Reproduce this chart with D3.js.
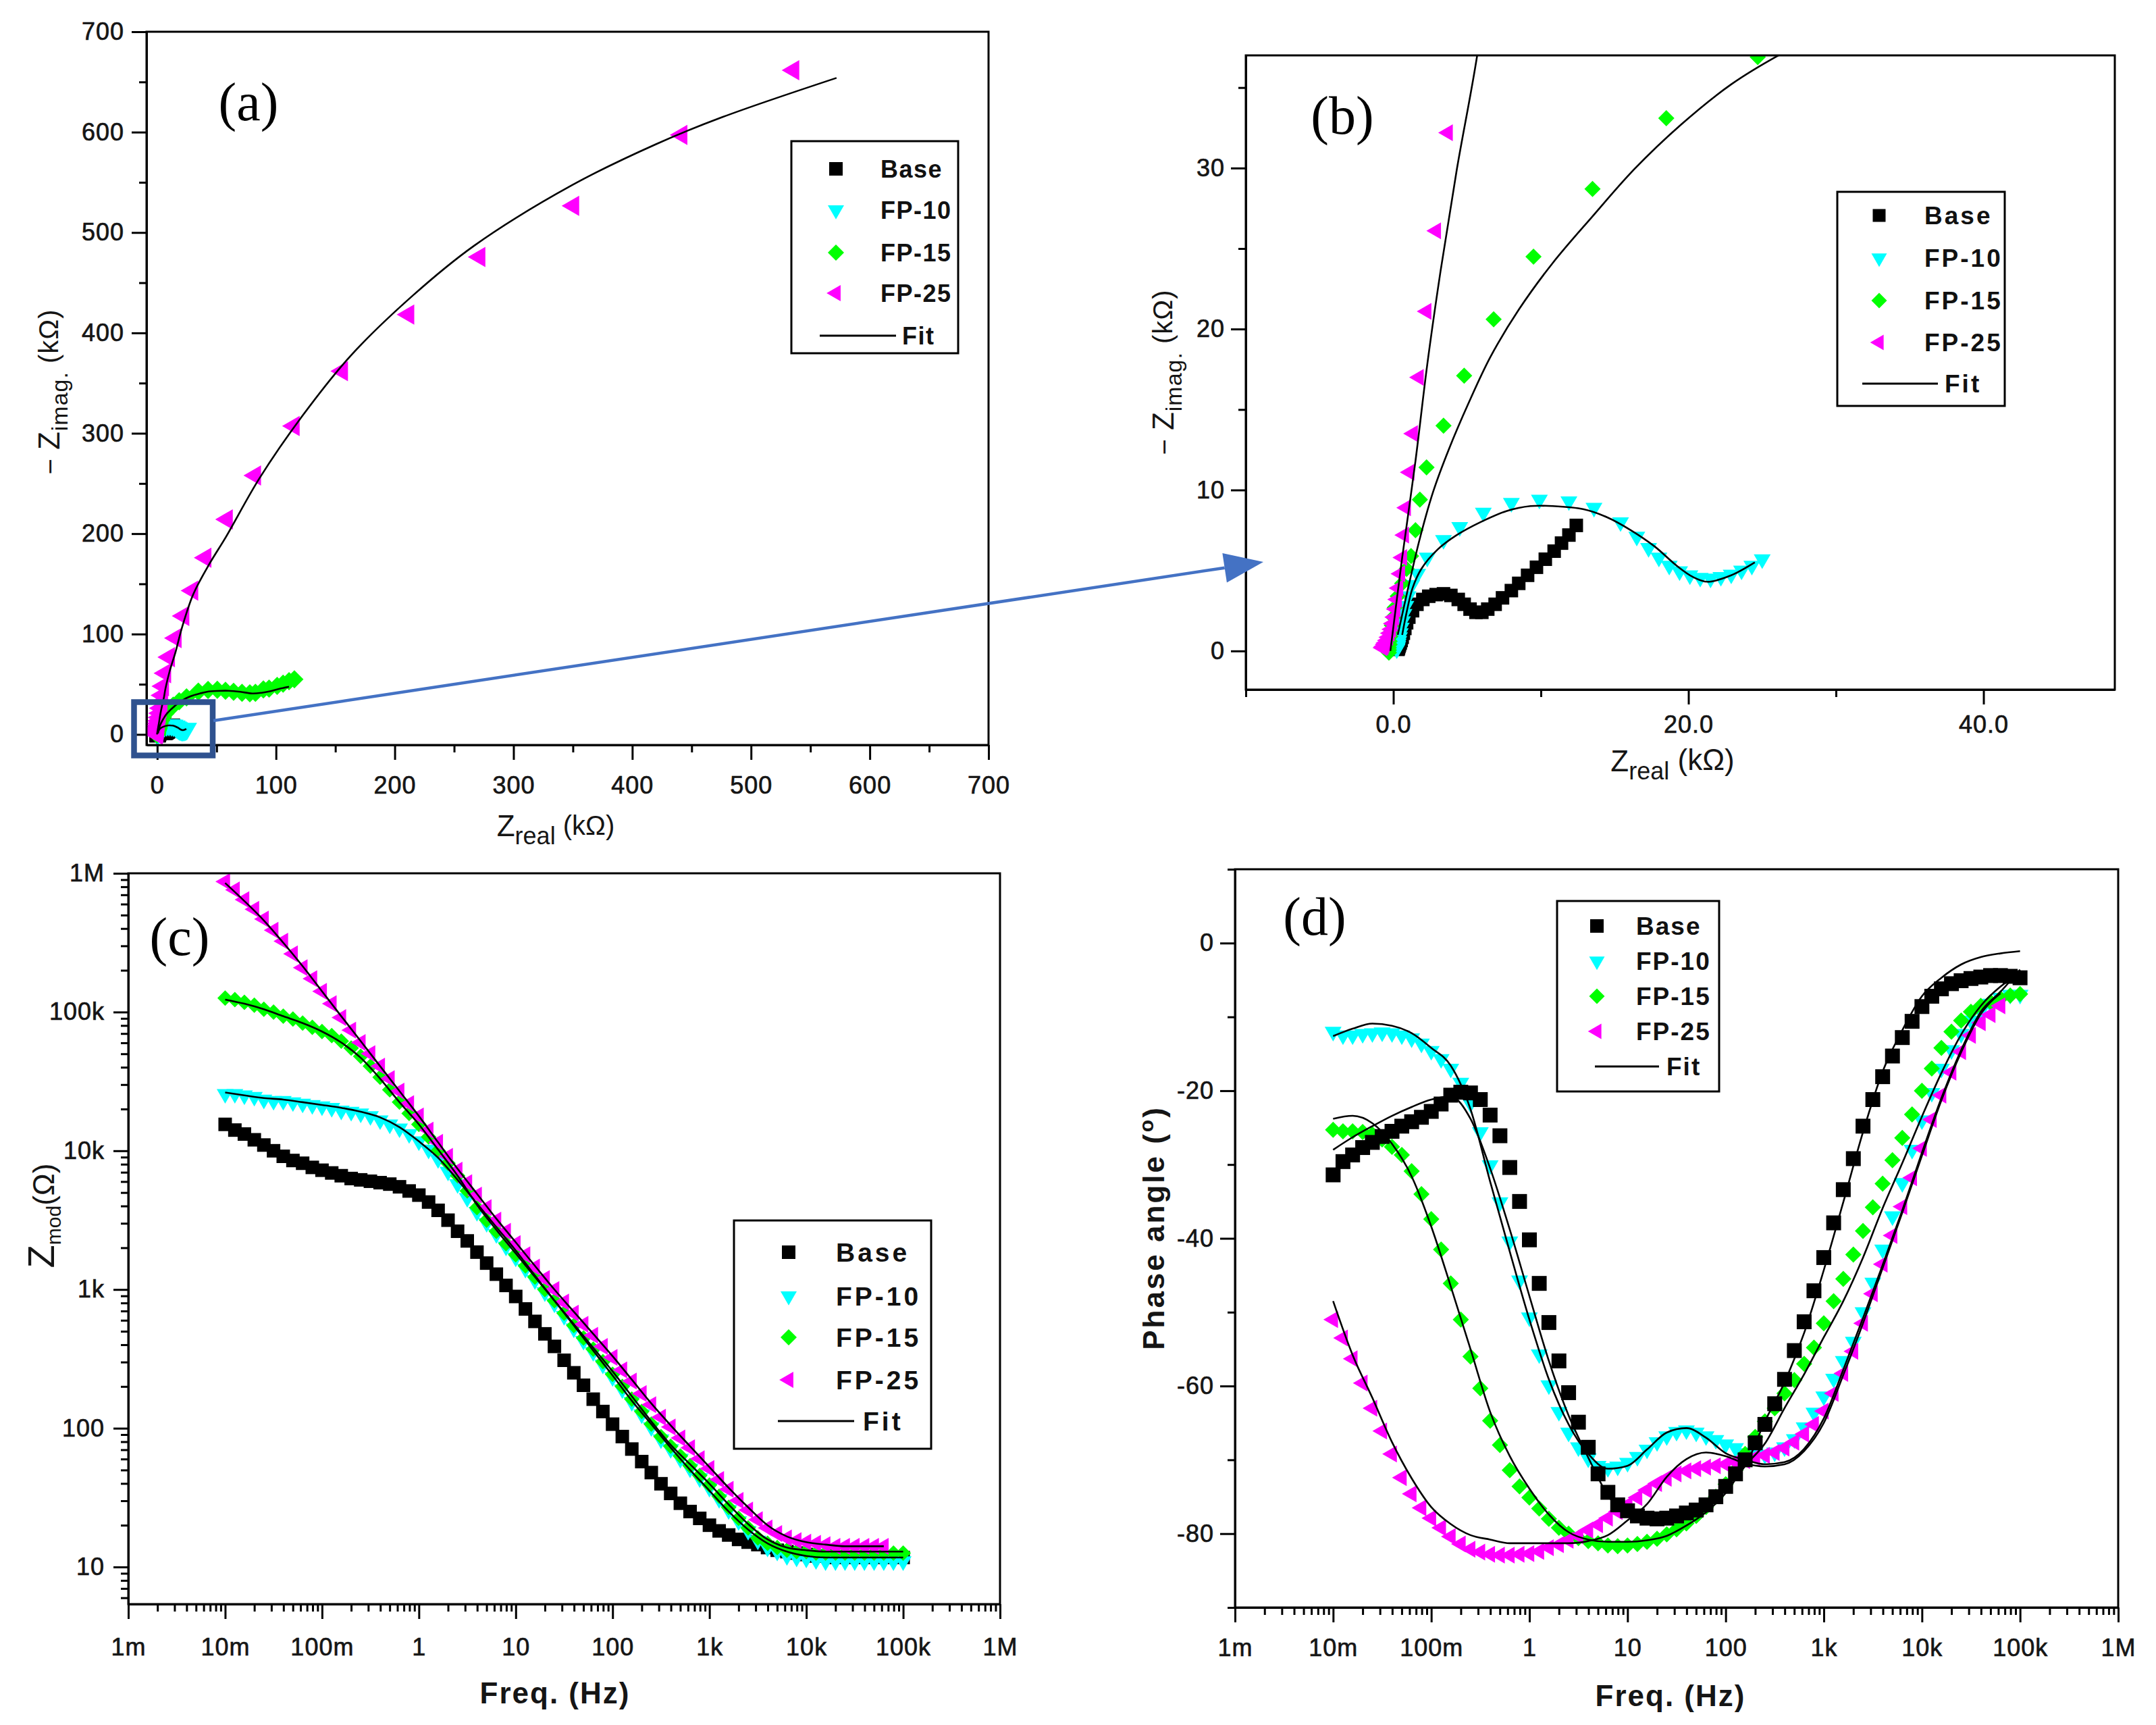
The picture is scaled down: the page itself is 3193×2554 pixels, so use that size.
<!DOCTYPE html>
<html><head><meta charset="utf-8">
<script src="https://cdn.jsdelivr.net/npm/d3@7/dist/d3.min.js"></script>
<style>
html,body{margin:0;padding:0;background:#fff;}
</style></head><body>
<svg id="chart" width="3193" height="2554" xmlns="http://www.w3.org/2000/svg"></svg>
<script>
// ---------------- DATA ----------------
const SERIES = ["Base", "FP-10", "FP-15", "FP-25"];
const COLORS = ["#000000", "#00FFFF", "#00FF00", "#FF00FF"];
const KINDS = ["square", "triDown", "diamond", "triLeft"];

// measurement frequencies (Hz), 10 per decade, 10 mHz .. 100 kHz
const FREQ = [0.01,0.0126,0.0158,0.02,0.0251,0.0316,0.0398,0.0501,0.0631,0.0794,
  0.1,0.126,0.158,0.2,0.251,0.316,0.398,0.501,0.631,0.794,
  1,1.26,1.58,2,2.51,3.16,3.98,5.01,6.31,7.94,
  10,12.6,15.8,20,25.1,31.6,39.8,50.1,63.1,79.4,
  100,126,158,200,251,316,398,501,631,794,
  1000,1260,1580,2000,2510,3160,3980,5010,6310,7940,
  10000,12600,15800,20000,25100,31600,39800,50100,63100,79400,100000];
// fit-curve frequencies (Hz)
const FIT_FREQ = [0.01,0.0158,0.0251,0.0398,0.0631,0.1,0.158,0.251,0.398,0.631,
  1,1.58,2.51,3.98,6.31,10,15.8,25.1,39.8,63.1,
  100,158,251,398,631,1000,1580,2510,3980,6310,
  10000,15800,25100,39800,63100,100000];

// |Z| (ohm) - panel (c)
const ZMOD_BASE = [15500,14100,13200,12000,11000,10000,9120,8510,8130,7590,
  7240,6920,6610,6310,6170,6030,5890,5750,5500,5130,
  4790,4270,3720,3160,2630,2240,1860,1550,1290,1070,
  891,724,589,479,389,309,251,204,162,132,
  107,87.1,70.8,57.5,47.9,39.8,33.9,28.8,25.1,22.4,
  20.0,18.2,17.0,15.8,15.1,14.5,13.8,13.2,12.9,12.6,
  12.3,12.0,12.0,11.7,11.7,11.7,11.7,11.7,11.7,11.7,11.7];
const ZMOD_FP10 = [25700,25700,25100,24500,23400,22900,22900,22400,21900,21400,
  20900,20400,19500,19100,18600,17800,16600,15500,14500,13200,
  11700,10200,8710,7080,5750,4570,3630,3020,2510,2040,
  1700,1410,1170,955,794,646,525,427,355,288,
  234,191,155,126,102,83.2,70.8,60.3,51.3,43.7,
  37.2,30.9,25.7,21.4,18.2,15.5,13.8,12.9,12.0,11.7,
  11.5,11.2,11.0,11.0,11.0,11.0,11.0,11.0,11.0,11.0,11.0];
const ZMOD_FP15 = [126000,123000,117500,112200,104700,100000,93300,89100,83200,77600,
  72400,67600,61700,55000,47900,40700,33900,27500,22400,18600,
  15500,12600,10000,8130,6610,5130,3890,3160,2630,2140,
  1780,1480,1230,1000,832,676,550,447,372,302,
  245,200,162,132,107,87.1,74.1,63.1,53.7,45.7,
  38.9,32.4,26.9,22.4,19.1,16.2,14.8,13.8,13.2,12.9,
  12.9,12.6,12.6,12.6,12.6,12.6,12.6,12.6,12.6,12.6,12.6];
const ZMOD_FP25 = [871000,759000,646000,550000,468000,389000,324000,263000,209000,174000,
  141000,115000,91200,74100,60300,50100,40700,33100,26900,21900,
  17800,14100,11500,9120,7240,5890,4790,3890,3160,2630,
  2140,1780,1450,1200,1000,813,676,562,468,389,
  324,263,219,178,148,120,102,85.1,72.4,60.3,
  51.3,42.7,36.3,30.2,25.7,21.9,19.1,17.4,16.2,15.5,
  15.1,14.8,14.5,14.1,14.1,14.1,14.1,14.1,14.1];
const ZMOD_FIT_FP10 = [26300,25100,24000,23400,22400,21400,20400,19100,17400,14800,
  11700,8910,6170,4170,2820,1910,1260,832,550,363,
  240,158,107,72.4,50.1,35.5,25.1,18.6,14.8,12.9,
  12.0,11.7,11.7,11.7,11.7,11.7];
const ZMOD_FIT_FP15 = [123000,114800,104700,93300,83200,72400,60300,46800,33100,22400,
  15500,10200,6610,4070,2690,1820,1230,832,562,380,
  257,170,112,75.9,55.0,39.8,28.2,20.4,15.8,13.8,
  13.2,12.9,12.9,12.9,12.9,12.9];
const ZMOD_FIT_FP25 = [851000,631000,457000,316000,214000,141000,93300,61700,40700,26900,
  17800,11500,7410,4900,3240,2190,1480,1000,692,479,
  331,224,151,105,74.1,52.5,37.2,26.9,20.0,16.6,
  15.1,14.5,14.1,14.1,14.1];

// phase angle (deg) - panel (d)
const PHASE_BASE = [-31.4,-29.6,-28.7,-27.7,-27.0,-26.2,-25.5,-24.8,-24.2,-23.6,
  -22.8,-21.8,-20.6,-20.2,-20.3,-21.2,-23.3,-26.1,-30.4,-35.0,
  -40.2,-46.1,-51.4,-56.6,-60.9,-64.9,-68.3,-71.9,-74.4,-76.1,
  -76.9,-77.6,-77.9,-78.0,-77.9,-77.6,-77.2,-76.8,-76.1,-75.0,
  -73.6,-71.9,-70.0,-67.7,-65.2,-62.4,-59.1,-55.2,-51.3,-47.1,
  -42.6,-37.9,-33.4,-29.2,-24.8,-21.2,-18.1,-15.3,-12.8,-10.6,
  -8.6,-7.2,-6.2,-5.5,-5.1,-4.8,-4.6,-4.4,-4.4,-4.5,-4.7];
const PHASE_FP10 = [-12.0,-12.5,-12.5,-12.3,-12.2,-12.1,-12.2,-12.5,-12.9,-13.6,
  -14.6,-15.7,-17.0,-18.9,-21.7,-25.6,-30.1,-35.1,-40.4,-45.7,
  -50.7,-55.7,-59.9,-63.5,-66.3,-68.3,-69.8,-70.8,-71.1,-70.9,
  -70.4,-69.6,-68.6,-67.6,-66.8,-66.2,-66.0,-66.3,-66.8,-67.3,
  -67.9,-68.4,-69.1,-69.0,-69.3,-69.0,-68.3,-67.2,-65.6,-63.6,
  -61.4,-59.0,-56.6,-54.0,-50.0,-46.0,-41.5,-37.0,-32.5,-28.0,
  -24.0,-20.3,-17.0,-14.5,-12.3,-10.5,-9.2,-8.2,-7.4,-7.0,-7.0];
const PHASE_FP15 = [-25.3,-25.5,-25.5,-25.6,-25.9,-26.6,-27.6,-28.7,-30.9,-34.0,
  -37.4,-41.5,-46.1,-51.0,-56.0,-60.3,-64.7,-68.0,-71.4,-73.6,
  -75.1,-76.6,-78.0,-79.2,-80.0,-80.6,-81.0,-81.3,-81.6,-81.7,
  -81.6,-81.4,-81.1,-80.7,-80.1,-79.4,-78.6,-77.6,-76.4,-75.0,
  -73.3,-71.4,-69.2,-66.9,-64.8,-63.0,-61.0,-59.2,-57.0,-54.8,
  -51.5,-48.5,-45.5,-42.2,-39.0,-35.8,-32.6,-29.4,-26.4,-23.2,
  -20.0,-17.0,-14.2,-12.0,-10.5,-9.3,-8.5,-8.0,-7.5,-7.1,-6.9];
const PHASE_FP25 = [-51.0,-53.5,-56.3,-59.6,-63.0,-66.1,-69.2,-72.4,-74.6,-76.5,
  -77.9,-79.2,-80.4,-81.4,-82.1,-82.5,-82.8,-82.9,-82.9,-82.8,
  -82.7,-82.4,-81.9,-81.5,-80.9,-80.3,-79.5,-78.8,-77.9,-77.0,
  -76.1,-75.1,-74.1,-73.2,-72.5,-71.9,-71.5,-71.2,-71.0,-70.8,
  -70.6,-70.3,-70.1,-69.7,-69.4,-69.0,-68.4,-67.6,-66.5,-65.2,
  -63.4,-61.0,-58.3,-55.3,-51.5,-47.5,-43.5,-39.6,-35.7,-31.8,
  -27.8,-23.9,-20.6,-17.5,-14.7,-12.5,-10.8,-9.7,-8.5];
const PHASE_FIT_BASE = [-28.0,-26.3,-24.8,-23.4,-22.2,-21.2,-20.8,-23.8,-30.5,-38.8,
  -47.8,-56.6,-64.0,-69.7,-74.8,-77.6,-78.3,-78.0,-76.9,-75.5,
  -73.4,-70.8,-64.8,-59.5,-52.8,-44.3,-35.1,-25.6,-17.4,-11.8,
  -7.2,-4.7,-2.9,-1.9,-1.4,-1.1];
const PHASE_FIT_FP10 = [-12.6,-11.6,-10.9,-11.2,-12.2,-14.2,-16.6,-22.5,-32.3,-41.8,
  -51.0,-59.1,-65.2,-69.2,-71.2,-70.8,-68.6,-66.3,-65.7,-67.0,
  -69.1,-70.0,-70.6,-70.3,-68.5,-64.4,-57.8,-50.8,-43.6,-36.2,
  -28.4,-21.0,-14.5,-9.3,-6.6,-3.6];
const PHASE_FIT_FP15 = [-23.8,-23.4,-24.4,-27.2,-31.6,-38.4,-46.5,-55.0,-63.5,-69.5,
  -73.9,-77.4,-79.8,-80.8,-81.1,-81.1,-80.9,-80.3,-78.9,-77.1,
  -74.5,-70.8,-67.8,-63.0,-58.4,-53.4,-48.5,-42.6,-35.9,-29.8,
  -23.5,-17.6,-12.4,-8.5,-5.9,-4.1];
const PHASE_FIT_FP25 = [-48.5,-55.8,-61.6,-67.6,-72.5,-76.4,-78.7,-80.2,-80.8,-81.3,
  -81.3,-81.3,-81.3,-81.0,-80.2,-78.2,-76.0,-72.3,-69.9,-69.0,
  -69.5,-70.5,-70.9,-70.6,-68.8,-65.0,-58.5,-51.5,-44.0,-36.5,
  -28.8,-21.3,-14.8,-9.6,-6.8];

// Nyquist (k-ohm) - panels (a) and (b)
const ZRE_BASE = [12.4,11.9,11.4,10.9,10.3,9.7,9.1,8.5,8.0,7.4,6.9,6.4,6.0,5.6,5.2,4.8,4.4,3.9,3.4,2.9,
  2.4,2.0,1.6,1.3,1.05,0.9,0.78,0.68,0.6,0.53,0.47,0.42,0.38,0.35,0.33,0.31];
const ZIM_BASE = [7.8,7.2,6.7,6.2,5.7,5.2,4.7,4.2,3.75,3.3,2.9,2.6,2.4,2.4,2.6,2.9,3.2,3.45,3.55,3.5,
  3.4,3.2,2.9,2.5,2.1,1.75,1.4,1.1,0.85,0.65,0.5,0.38,0.28,0.2,0.14,0.1];
const ZRE_FP10 = [25.0,24.3,23.6,22.9,22.2,21.5,20.8,20.1,19.4,18.7,18.0,17.3,16.5,15.4,13.6,11.9,9.9,8.0,6.1,4.5,
  3.4,2.3,1.65,1.25,1.0,0.85,0.72,0.62,0.54,0.47,0.42,0.37,0.33,0.3,0.27,0.25,0.23];
const ZIM_FP10 = [5.7,5.3,5.0,4.75,4.6,4.5,4.55,4.7,4.95,5.3,5.8,6.4,7.1,8.0,8.9,9.3,9.4,9.2,8.6,7.7,
  6.9,5.8,4.8,4.1,3.4,2.8,2.3,1.85,1.45,1.1,0.85,0.62,0.45,0.32,0.22,0.15,0.1];
const ZRE_FP15 = [115.5,111,106,101,94.2,89.4,82.7,78,71.4,64.3,57.5,50.6,42.8,34.6,24.7,18.5,13.5,9.5,6.8,4.8,
  3.4,2.25,1.8,1.5,1.2,0.9,0.6,0.3,0.1,0,-0.1,-0.15,-0.2,-0.25,-0.25,-0.3,-0.3,-0.3];
const ZIM_FP15 = [55,53,50.6,48.4,45.7,44.8,41.5,41,41.5,42.5,43.5,44.5,44.4,42.7,36.9,33.1,28.7,24.5,20.6,17.1,
  14.0,11.4,9.4,7.5,5.9,5.1,4.2,3.4,2.7,2.1,1.6,1.2,0.9,0.6,0.4,0.2,0.05,-0.1];
const ZRE_FP25 = [535.7,441.5,350.4,271.4,211.5,155.7,115,82.5,58.7,40.7,29.6,22.1,15.6,10.0,6.8,5.0,4.2,3.7,2.9,2.25,
  1.73,1.33,1.1,0.86,0.73,0.6,0.47,0.34,0.25,0.15,0.05,-0.05,-0.15,-0.25,-0.35,-0.45,-0.55,-0.6,-0.65,-0.7,-0.75];
const ZIM_FP25 = [661.7,597.2,526.5,475.6,418.2,361.9,307.3,258,214.3,176,143.2,118,96,77,61,48,39,32.2,26.1,21.1,
  17.0,13.5,11.1,8.9,7.2,5.8,4.8,3.9,3.2,2.6,2.1,1.7,1.35,1.1,0.85,0.65,0.5,0.4,0.3,0.25,0.2];
const NYQ_FIT_FP10_RE = [0.6,0.9,1.3,1.9,3.0,4.3,5.9,7.7,9.3,10.8,12.9,14.5,16.1,17.7,19.2,20.3,21.3,22.9,24.5];
const NYQ_FIT_FP10_IM = [1.0,2.4,3.9,5.1,6.3,7.2,8.0,8.7,9.0,9.0,8.8,8.3,7.5,6.5,5.3,4.6,4.3,4.7,5.5];
const NYQ_FIT_FP15_RE = [0.3,1,1.8,2.7,3.75,5.1,6.6,8.5,10.8,13.5,16.3,19.5,22.9,26.3,30,36,42,50,60,70,80,88,95,103,111];
const NYQ_FIT_FP15_IM = [1,3.9,7,9.9,12.5,15.4,18.3,21.2,24.1,27,29.9,32.7,35.2,37.1,38.8,40.8,42.5,43.3,43.5,42.5,40.8,41.5,43,45.5,47.5];
const NYQ_FIT_FP25_RE = [-0.2,0.6,1.5,2.3,3.2,4.3,5.7,7.0,10.7,15.4,21,30.5,44,58,86,122,162.7,215,267,349,420,476,572];
const NYQ_FIT_FP25_IM = [0,5.8,11.8,17.8,23.6,29.9,37.1,46,64,82,107,140,170,197,255,317,377,437,487,547,588,615,654];

// tick labels
const NYQ_A_TICKS = [0,100,200,300,400,500,600,700];
const NYQ_B_XTICKS = [0,20,40];
const NYQ_B_XLABELS = ["0.0","20.0","40.0"];
const NYQ_B_YTICKS = [0,10,20,30];
const FREQ_TICKS = [1e-3,1e-2,1e-1,1,10,100,1e3,1e4,1e5,1e6];
const FREQ_LABELS = ["1m","10m","100m","1","10","100","1k","10k","100k","1M"];
const ZMOD_TICKS = [10,100,1e3,1e4,1e5,1e6];
const ZMOD_LABELS = ["10","100","1k","10k","100k","1M"];
const PHASE_TICKS = [0,-20,-40,-60,-80];

// ---------------- DRAWING ----------------
const FONT = '"Liberation Sans", Arial, Helvetica, sans-serif';
const SERIF = '"Liberation Serif", "Times New Roman", serif';
const svg = d3.select("#chart");
svg.append("rect").attr("width", 3193).attr("height", 2554).attr("fill", "#fff");

function markerPath(kind, s) {
  const h = s * 0.866;
  if (kind === "square") return `M${-s/2},${-s/2}h${s}v${s}h${-s}Z`;
  if (kind === "triDown") return `M${-s/2},${-h/3}L${s/2},${-h/3}L0,${2*h/3}Z`;
  if (kind === "diamond") return `M0,${-s/2}L${s/2},0L0,${s/2}L${-s/2},0Z`;
  return `M${-2*h/3},0L${h/3},${-s/2}L${h/3},${s/2}Z`;
}
function sizeOf(kind, sz) {
  return kind === "square" ? sz.sq : (kind === "diamond" ? sz.dia : sz.tri);
}

function styleAxis(g, fs, ls) {
  g.attr("font-size", fs).attr("font-family", FONT);
  g.select(".domain").attr("stroke", "#000").attr("stroke-width", 3);
  g.selectAll(".tick line").attr("stroke", "#000").attr("stroke-width", 3);
  g.selectAll(".tick text").attr("fill", "#151515").attr("stroke", "#151515").attr("stroke-width", 0.7)
    .style("letter-spacing", ls + "px");
}

function drawAxes(b, x, y, ax) {
  const gx = svg.append("g").attr("transform", `translate(0,${b.b})`)
    .call(d3.axisBottom(x).tickValues(ax.xMajor).tickFormat(ax.xFmt).tickSize(22).tickSizeOuter(0).tickPadding(ax.xPad));
  styleAxis(gx, 36, 1);
  const gxm = svg.append("g").attr("transform", `translate(0,${b.b})`)
    .call(d3.axisBottom(x).tickValues(ax.xMinor).tickFormat(() => "").tickSize(11).tickSizeOuter(0));
  styleAxis(gxm, 36, 0); gxm.select(".domain").remove();
  const gy = svg.append("g").attr("transform", `translate(${b.l},0)`)
    .call(d3.axisLeft(y).tickValues(ax.yMajor).tickFormat(ax.yFmt).tickSize(22).tickSizeOuter(0).tickPadding(ax.yPad));
  styleAxis(gy, 36, 1);
  const gym = svg.append("g").attr("transform", `translate(${b.l},0)`)
    .call(d3.axisLeft(y).tickValues(ax.yMinor).tickFormat(() => "").tickSize(11).tickSizeOuter(0));
  styleAxis(gym, 36, 0); gym.select(".domain").remove();
}
function frame(b) {
  svg.append("rect").attr("x", b.l).attr("y", b.t).attr("width", b.r - b.l).attr("height", b.b - b.t)
    .attr("fill", "none").attr("stroke", "#000").attr("stroke-width", 3);
}
function clipGroup(id, b) {
  svg.append("clipPath").attr("id", id).append("rect")
    .attr("x", b.l).attr("y", b.t).attr("width", b.r - b.l).attr("height", b.b - b.t);
  return svg.append("g").attr("clip-path", `url(#${id})`);
}
function drawMarkers(g, xs, ys, si, sz, x, y) {
  const kind = KINDS[si];
  g.append("g").selectAll("path").data(d3.zip(xs, ys)).join("path")
    .attr("d", markerPath(kind, sizeOf(kind, sz)))
    .attr("transform", d => `translate(${x(d[0])},${y(d[1])})`)
    .attr("fill", COLORS[si]);
}
function drawFit(g, xs, ys, x, y, curve) {
  g.append("path").datum(d3.zip(xs, ys))
    .attr("d", d3.line().x(d => x(d[0])).y(d => y(d[1])).curve(curve))
    .attr("fill", "none").attr("stroke", "#000").attr("stroke-width", 2.6);
}
function legend(L) {
  const g = svg.append("g");
  g.append("rect").attr("x", L.x).attr("y", L.y).attr("width", L.w).attr("height", L.h)
    .attr("fill", "#fff").attr("stroke", "#000").attr("stroke-width", 3);
  SERIES.forEach((name, i) => {
    g.append("path").attr("d", markerPath(KINDS[i], sizeOf(KINDS[i], L.sz)))
      .attr("transform", `translate(${L.mx},${L.ys[i]})`).attr("fill", COLORS[i]);
    g.append("text").attr("x", L.tx).attr("y", L.ys[i] + L.fs * 0.36).text(name)
      .attr("font-family", FONT).attr("font-size", L.fs).attr("font-weight", "bold")
      .style("letter-spacing", L.ls + "px").attr("fill", "#111");
  });
  g.append("line").attr("x1", L.fx1).attr("x2", L.fx2).attr("y1", L.ys[4]).attr("y2", L.ys[4])
    .attr("stroke", "#000").attr("stroke-width", 3);
  g.append("text").attr("x", L.ftx).attr("y", L.ys[4] + L.fs * 0.36).text("Fit")
    .attr("font-family", FONT).attr("font-size", L.fs).attr("font-weight", "bold")
    .style("letter-spacing", L.ls + "px").attr("fill", "#111");
}
function panelLabel(txt, x, y) {
  svg.append("text").attr("x", x).attr("y", y).attr("text-anchor", "middle")
    .attr("font-family", SERIF).attr("font-size", 80).attr("fill", "#000").text(txt);
}
function range(a, b, s) { const out = []; for (let v = a; v <= b + 1e-9; v += s) out.push(v); return out; }
function logMinor(lo, hi) {
  const out = [];
  for (let d = -6; d <= 6; d++) for (let m = 2; m <= 9; m++) {
    const v = m * Math.pow(10, d);
    if (v > lo && v < hi) out.push(v);
  }
  return out;
}

// ---------- Panel (a) ----------
const bA = {l: 217, r: 1464, t: 47, b: 1103};
const xA = d3.scaleLinear().domain([-9, 700]).range([bA.l, bA.r]);
const yA = d3.scaleLinear().domain([-10.5, 700]).range([bA.b, bA.t]);
drawAxes(bA, xA, yA, {xMajor: NYQ_A_TICKS, xFmt: d => String(d), xMinor: range(50, 650, 100), xPad: 24,
  yMajor: NYQ_A_TICKS, yFmt: d => String(d), yMinor: range(50, 650, 100), yPad: 11});
const gA = clipGroup("clipA", bA);
const NYQ = [[ZRE_BASE, ZIM_BASE], [ZRE_FP10, ZIM_FP10], [ZRE_FP15, ZIM_FP15], [ZRE_FP25, ZIM_FP25]];
const NYQ_FITS = [[NYQ_FIT_FP10_RE, NYQ_FIT_FP10_IM], [NYQ_FIT_FP15_RE, NYQ_FIT_FP15_IM], [NYQ_FIT_FP25_RE, NYQ_FIT_FP25_IM]];
const szA = {sq: 24, tri: 30, dia: 27};
NYQ.forEach((s, i) => drawMarkers(gA, s[0], s[1], i, szA, xA, yA));
NYQ_FITS.forEach(f => drawFit(gA, f[0], f[1], xA, yA, d3.curveCatmullRom));
frame(bA);
legend({x: 1172, y: 209, w: 247, h: 314, mx: 1238, tx: 1304, fs: 36, ls: 1.5, sz: {sq: 20, tri: 24, dia: 24},
  ys: [250, 311, 374, 434, 497], fx1: 1214, fx2: 1327, ftx: 1336});
panelLabel("(a)", 368, 178);
// axis titles (a)
svg.append("text").attr("x", 823).attr("y", 1238).attr("text-anchor", "middle").attr("font-family", FONT).attr("fill", "#151515")
  .call(t => {
    t.append("tspan").attr("font-size", 44).text("Z");
    t.append("tspan").attr("font-size", 36).attr("dy", 12).text("real");
    t.append("tspan").attr("font-size", 40).attr("dy", -14).text(" (kΩ)");
  });
svg.append("text").attr("transform", "translate(88,580) rotate(-90)").attr("text-anchor", "middle").attr("font-family", FONT).attr("fill", "#151515")
  .style("letter-spacing", "1px")
  .call(t => {
    t.append("tspan").attr("font-size", 40).text("− ");
    t.append("tspan").attr("font-size", 44).text("Z");
    t.append("tspan").attr("font-size", 34).attr("dy", 12).text("imag.");
    t.append("tspan").attr("font-size", 40).attr("dy", -14).text(" (kΩ)");
  });

// ---------- Panel (b) ----------
const bB = {l: 1845, r: 3132, t: 82, b: 1021};
const xB = d3.scaleLinear().domain([-10, 48.9]).range([bB.l, bB.r]);
const yB = d3.scaleLinear().domain([-2.4, 37]).range([bB.b, bB.t]);
drawAxes(bB, xB, yB, {xMajor: NYQ_B_XTICKS, xFmt: (d, i) => NYQ_B_XLABELS[i], xMinor: [-10, 10, 30], xPad: 16,
  yMajor: NYQ_B_YTICKS, yFmt: d => String(d), yMinor: [5, 15, 25, 35], yPad: 9});
const gB = clipGroup("clipB", bB);
const szB = {sq: 20, tri: 25, dia: 24};
NYQ.forEach((s, i) => drawMarkers(gB, s[0], s[1], i, szB, xB, yB));
NYQ_FITS.forEach(f => drawFit(gB, f[0], f[1], xB, yB, d3.curveCatmullRom));
frame(bB);
legend({x: 2721, y: 284, w: 248, h: 317, mx: 2783, tx: 2850, fs: 37, ls: 3, sz: {sq: 19, tri: 23, dia: 23},
  ys: [319, 382, 445, 507, 568], fx1: 2758, fx2: 2870, ftx: 2880});
panelLabel("(b)", 1988, 198);
svg.append("text").attr("x", 2477).attr("y", 1142).attr("text-anchor", "middle").attr("font-family", FONT).attr("fill", "#151515")
  .call(t => {
    t.append("tspan").attr("font-size", 44).text("Z");
    t.append("tspan").attr("font-size", 36).attr("dy", 12).text("real");
    t.append("tspan").attr("font-size", 44).attr("dy", -14).text(" (kΩ)");
  });
svg.append("text").attr("transform", "translate(1738,551) rotate(-90)").attr("text-anchor", "middle").attr("font-family", FONT).attr("fill", "#151515")
  .style("letter-spacing", "1px")
  .call(t => {
    t.append("tspan").attr("font-size", 40).text("− ");
    t.append("tspan").attr("font-size", 44).text("Z");
    t.append("tspan").attr("font-size", 34).attr("dy", 12).text("imag.");
    t.append("tspan").attr("font-size", 40).attr("dy", -14).text(" (kΩ)");
  });

// zoom box + arrow
svg.append("rect").attr("x", 198.5).attr("y", 1039.5).attr("width", 116.5).attr("height", 79)
  .attr("fill", "none").attr("stroke", "#2F528F").attr("stroke-width", 8.5);
(function arrow() {
  const x1 = 316, y1 = 1067, x2 = 1871, y2 = 832;
  const ang = Math.atan2(y2 - y1, x2 - x1), L = 58, W = 22;
  const bx = x2 - L * Math.cos(ang), by = y2 - L * Math.sin(ang);
  svg.append("line").attr("x1", x1).attr("y1", y1).attr("x2", bx).attr("y2", by)
    .attr("stroke", "#4472C4").attr("stroke-width", 4.5);
  const px = -Math.sin(ang) * W, py = Math.cos(ang) * W;
  svg.append("path").attr("d", `M${x2},${y2}L${bx + px},${by + py}L${bx - px},${by - py}Z`).attr("fill", "#4472C4");
})();

// ---------- Panel (c) ----------
const bC = {l: 190, r: 1481, t: 1293, b: 2375};
const xC = d3.scaleLog().domain([1e-3, 1e6]).range([bC.l, bC.r]);
const yC = d3.scaleLog().domain([5.4, 1e6]).range([bC.b, bC.t]);
drawAxes(bC, xC, yC, {xMajor: FREQ_TICKS, xFmt: (d, i) => FREQ_LABELS[i], xMinor: logMinor(1e-3, 1e6), xPad: 28,
  yMajor: ZMOD_TICKS, yFmt: (d, i) => ZMOD_LABELS[i], yMinor: logMinor(5.4, 1e6), yPad: 13});
const gC = clipGroup("clipC", bC);
const szC = {sq: 20, tri: 25, dia: 23};
const ZMODS = [ZMOD_BASE, ZMOD_FP10, ZMOD_FP15, ZMOD_FP25];
ZMODS.forEach((z, i) => drawMarkers(gC, FREQ.slice(0, z.length), z, i, szC, xC, yC));
[ZMOD_FIT_FP10, ZMOD_FIT_FP15, ZMOD_FIT_FP25].forEach(z => drawFit(gC, FIT_FREQ.slice(0, z.length), z, xC, yC, d3.curveMonotoneX));
frame(bC);
legend({x: 1087, y: 1807, w: 292, h: 338, mx: 1168, tx: 1238, fs: 39, ls: 4, sz: {sq: 20, tri: 24, dia: 24},
  ys: [1854, 1919, 1980, 2043, 2104], fx1: 1152, fx2: 1265, ftx: 1278});
panelLabel("(c)", 266, 1414);
svg.append("text").attr("x", 822).attr("y", 2522).attr("text-anchor", "middle").attr("font-family", FONT)
  .attr("font-size", 44).attr("font-weight", "bold").style("letter-spacing", "2px").attr("fill", "#151515").text("Freq. (Hz)");
svg.append("text").attr("transform", "translate(80,1800) rotate(-90)").attr("text-anchor", "middle").attr("font-family", FONT).attr("fill", "#151515")
  .call(t => {
    t.append("tspan").attr("font-size", 56).text("Z");
    t.append("tspan").attr("font-size", 30).attr("dy", 10).text("mod");
    t.append("tspan").attr("font-size", 44).attr("dy", -10).text("(Ω)");
  });

// ---------- Panel (d) ----------
const bD = {l: 1829, r: 3137, t: 1287, b: 2380};
const xD = d3.scaleLog().domain([1e-3, 1e6]).range([bD.l, bD.r]);
const yD = d3.scaleLinear().domain([-90, 10]).range([bD.b, bD.t]);
drawAxes(bD, xD, yD, {xMajor: FREQ_TICKS, xFmt: (d, i) => FREQ_LABELS[i], xMinor: logMinor(1e-3, 1e6), xPad: 24,
  yMajor: PHASE_TICKS, yFmt: d => String(d), yMinor: [10, -10, -30, -50, -70, -90], yPad: 9});
const gD = clipGroup("clipD", bD);
const szD = {sq: 22, tri: 25, dia: 24};
const PHASES = [PHASE_BASE, PHASE_FP10, PHASE_FP15, PHASE_FP25];
[1, 2, 3, 0].forEach(i => drawMarkers(gD, FREQ.slice(0, PHASES[i].length), PHASES[i], i, szD, xD, yD));
[PHASE_FIT_BASE, PHASE_FIT_FP10, PHASE_FIT_FP15, PHASE_FIT_FP25].forEach(p => drawFit(gD, FIT_FREQ.slice(0, p.length), p, xD, yD, d3.curveMonotoneX));
frame(bD);
legend({x: 2306, y: 1334, w: 240, h: 282, mx: 2365, tx: 2423, fs: 37, ls: 2, sz: {sq: 20, tri: 23, dia: 23},
  ys: [1371, 1423, 1475, 1527, 1579], fx1: 2362, fx2: 2457, ftx: 2468});
panelLabel("(d)", 1947, 1384);
svg.append("text").attr("x", 2474).attr("y", 2526).attr("text-anchor", "middle").attr("font-family", FONT)
  .attr("font-size", 44).attr("font-weight", "bold").style("letter-spacing", "2px").attr("fill", "#151515").text("Freq. (Hz)");
svg.append("text").attr("transform", "translate(1724,1818) rotate(-90)").attr("text-anchor", "middle").attr("font-family", FONT)
  .attr("font-size", 44).attr("font-weight", "bold").style("letter-spacing", "3px").attr("fill", "#151515")
  .call(t => {
    t.append("tspan").text("Phase angle (");
    t.append("tspan").attr("font-size", 30).attr("dy", -16).text("o");
    t.append("tspan").attr("dy", 16).text(")");
  });
</script>
</body></html>
